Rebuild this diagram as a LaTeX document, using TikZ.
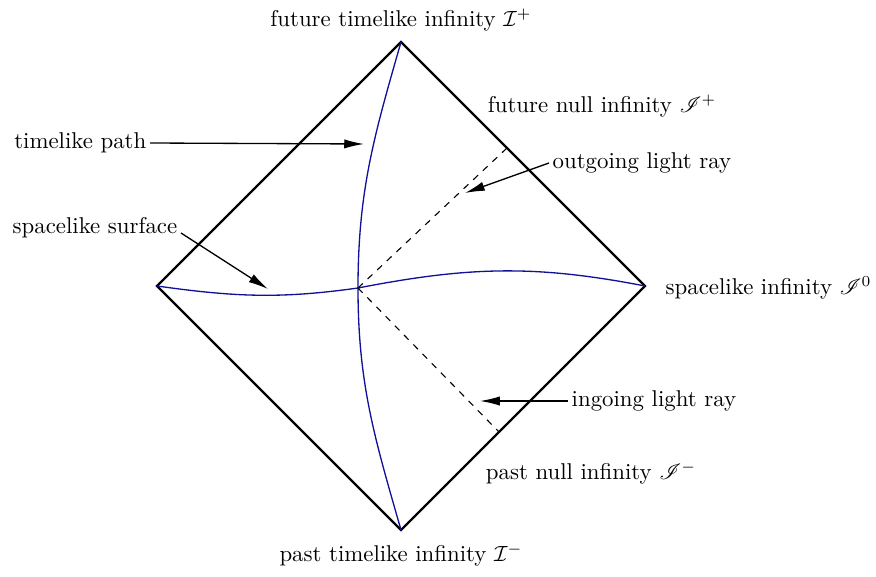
\documentclass[tikz,border=0pt]{standalone}
\usepackage{amsmath, amssymb}
\usepackage{mathrsfs}
\usepackage{xcolor}
\usepackage{tikz}
\usetikzlibrary{arrows.meta}
\definecolor{pathblue}{HTML}{10109A}

\begin{document}
\begin{tikzpicture}[x=0.016cm, y=0.016cm,
    boundary/.style={line width=1pt},
    world/.style={color=pathblue, line width=0.6pt},
    ray/.style={dashed, line width=0.5pt},
    pointer/.style={-{Latex[length=9pt,width=4.2pt]}, line width=0.6pt},
    lbl/.style={inner sep=1.5pt, font=\fontsize{10.4}{12.5}\selectfont}
]
\useasboundingbox (0,0) rectangle (876,576);

% corners of the diagram
\coordinate (top) at (401,534);
\coordinate (bot) at (401,46);
\coordinate (left) at (157,290);
\coordinate (right) at (645,290);
\coordinate (mid) at (358,288);
\coordinate (outend) at (507,428);
\coordinate (inend) at (499,144);

\draw[boundary] (top) -- (right) -- (bot) -- (left) -- cycle;

% timelike path and spacelike surface
\draw[world] (top) to[out=-106, in=90] (mid) to[out=-90, in=106] (bot);
\draw[world] (left) to[out=-8, in=188] (mid) to[out=11, in=169] (right);

% light rays
\draw[ray] (mid) -- (outend);
\draw[ray] (mid) -- (inend);

% infinities
\node[lbl] (iplus) at (401,556) {future timelike infinity $\mathcal{I}^+$};
\node[lbl] (iminus) at (401,21) {past timelike infinity $\mathcal{I}^-$};
\node[lbl] (scriplus) at (602,470) {future null infinity $\mathscr{I}^+$};
\node[lbl] (scriminus) at (591,103) {past null infinity $\mathscr{I}^-$};
\node[lbl, anchor=west] (izero) at (662,288) {spacelike infinity $\mathscr{I}^0$};

% pointers
\node[lbl, anchor=east] (tlp) at (150,433) {timelike path};
\coordinate (tlptip) at (364,432);
\draw[pointer] (tlp.east) -- (tlptip);

\node[lbl, anchor=west] (olr) at (549,413) {outgoing light ray};
\coordinate (olrtip) at (465,383);
\draw[pointer] (olr.west) -- (olrtip);

\node[lbl, anchor=base east] (sps) at (181,343) {spacelike surface};
\coordinate (spstip) at (268,287);
\draw[pointer] (sps.base east) -- (spstip);

\node[lbl, anchor=west] (ilr) at (568,175) {ingoing light ray};
\coordinate (ilrtip) at (480,175);
\draw[pointer] (ilr.west) -- (ilrtip);
\end{tikzpicture}
\end{document}
